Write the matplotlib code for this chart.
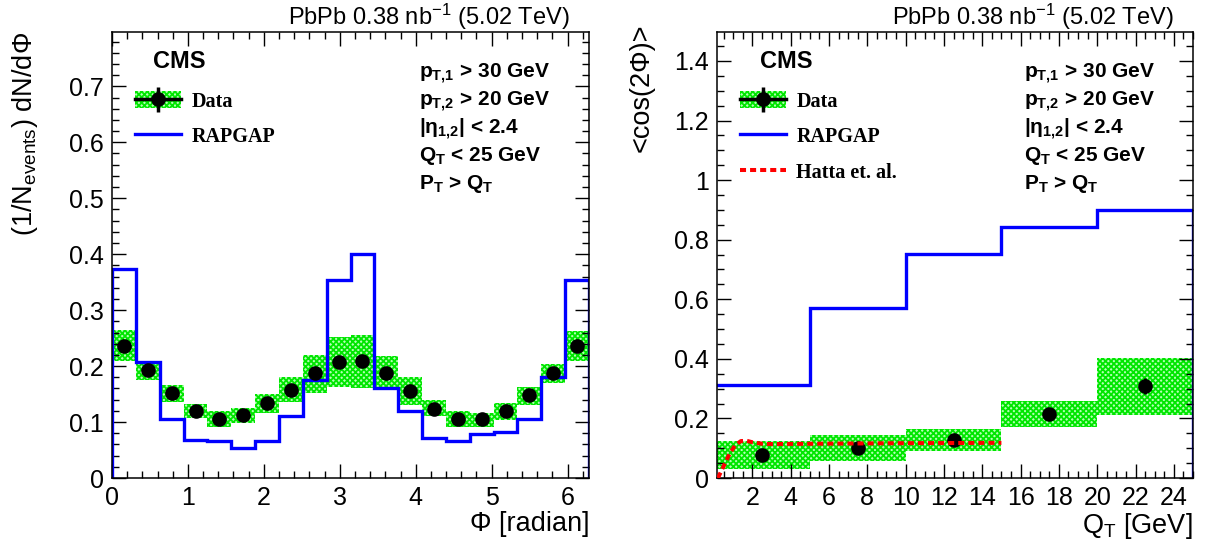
import numpy as np
import matplotlib
matplotlib.use("Agg")
import matplotlib.pyplot as plt
from matplotlib.patches import Patch
from matplotlib.lines import Line2D
from matplotlib.ticker import MultipleLocator, FuncFormatter

# ======================================================
# DATA
# ======================================================

# left: dN/dPhi, 20 bins over [0, 2pi]
phi_edges = np.linspace(0, 2 * np.pi, 21)
phi_data = [0.236, 0.193, 0.152, 0.120, 0.106, 0.113, 0.134, 0.158, 0.187, 0.207,
            0.209, 0.188, 0.156, 0.124, 0.105, 0.105, 0.120, 0.148, 0.187, 0.236]
phi_stat = [0.004] * 20
phi_sys_lo = [0.210, 0.175, 0.136, 0.107, 0.092, 0.099, 0.116, 0.135, 0.152, 0.163,
              0.161, 0.163, 0.131, 0.110, 0.092, 0.092, 0.104, 0.131, 0.169, 0.210]
phi_sys_hi = [0.265, 0.210, 0.167, 0.133, 0.120, 0.126, 0.151, 0.181, 0.220, 0.252,
              0.255, 0.218, 0.180, 0.140, 0.119, 0.117, 0.134, 0.162, 0.204, 0.262]
phi_rapgap = [0.373, 0.207, 0.106, 0.068, 0.066, 0.053, 0.066, 0.111, 0.175, 0.353,
              0.401, 0.161, 0.120, 0.071, 0.066, 0.078, 0.082, 0.106, 0.180, 0.353]

# right: <cos(2Phi)> vs QT
qt_edges = [0, 5, 10, 15, 20, 25]
qt_data = [0.076, 0.101, 0.126, 0.215, 0.308]
qt_stat = [0.006, 0.006, 0.007, 0.010, 0.027]
qt_sys_lo = [0.030, 0.056, 0.090, 0.170, 0.211]
qt_sys_hi = [0.123, 0.145, 0.166, 0.260, 0.403]
qt_rapgap = [0.311, 0.571, 0.752, 0.841, 0.901]

hatta_qt = [0.2, 0.5, 0.8, 1.1, 1.4, 1.7, 2.0, 2.5, 3.0, 5.0, 10.0, 15.0]
hatta_val = [0.0, 0.040, 0.080, 0.110, 0.124, 0.125, 0.120, 0.115, 0.114, 0.115, 0.117, 0.118]

# ======================================================
# STYLE
# ======================================================

plt.rcParams["font.family"] = ["Liberation Sans", "DejaVu Sans"]
plt.rcParams["mathtext.fontset"] = "custom"
plt.rcParams["mathtext.rm"] = "Liberation Sans"
plt.rcParams["mathtext.default"] = "regular"
plt.rcParams["hatch.linewidth"] = 1.3

GREEN_FACE = "#b4ffb4"
GREEN_HATCH = "#00e600"
HATCH = "xxxxxx"
BLUE = "#0000ff"
RED = "#ff0000"

fig = plt.figure(figsize=(12.06, 5.46), dpi=100)
ax1 = fig.add_axes([0.0929, 0.1245, 0.3955, 0.8168])
ax2 = fig.add_axes([0.5945, 0.1245, 0.3947, 0.8168])


def sys_boxes(ax, edges, lo, hi):
    for i in range(len(lo)):
        ax.bar(edges[i], hi[i] - lo[i], width=edges[i + 1] - edges[i],
               bottom=lo[i], align="edge", facecolor=GREEN_FACE,
               edgecolor=GREEN_HATCH, hatch=HATCH, linewidth=0, zorder=1)


def root_axes(ax):
    ax.tick_params(which="both", direction="in", top=True, right=True,
                   labelsize=18, width=1.0, pad=6)
    ax.tick_params(which="major", length=10)
    ax.tick_params(which="minor", length=5)
    for s in ax.spines.values():
        s.set_linewidth(1.1)


def cuts(ax):
    lines = [r"p$_{T{,}1}$ > 30 GeV", r"p$_{T{,}2}$ > 20 GeV", r"|$\eta_{1{,}2}$| < 2.4",
             r"Q$_{T}$ < 25 GeV", r"P$_{T}$ > Q$_{T}$"]
    ys = [0.896, 0.833, 0.770, 0.710, 0.647]
    for t, y in zip(lines, ys):
        ax.text(0.644, y, t, transform=ax.transAxes, fontsize=15,
                fontweight="bold", va="baseline", ha="left")
    ax.text(0.96, 1.016, r"PbPb 0.38 nb$^{-1}$ (5.02 TeV)", transform=ax.transAxes,
            fontsize=17, ha="right", va="baseline")


fmt = FuncFormatter(lambda v, p: "%g" % round(v, 6))

# ======================================================
# LEFT PANEL
# ======================================================

centers = 0.5 * (phi_edges[:-1] + phi_edges[1:])
sys_boxes(ax1, phi_edges, phi_sys_lo, phi_sys_hi)
ax1.stairs(phi_rapgap, phi_edges, color=BLUE, linewidth=2.4, zorder=2)
ax1.errorbar(centers, phi_data, yerr=phi_stat, fmt="o", color="black",
             markersize=9.5, elinewidth=2, capsize=0, zorder=3)

ax1.set_xlim(0, 2 * np.pi)
ax1.set_ylim(0, 0.797)
ax1.xaxis.set_major_locator(MultipleLocator(1))
ax1.xaxis.set_minor_locator(MultipleLocator(0.2))
ax1.yaxis.set_major_locator(MultipleLocator(0.1))
ax1.yaxis.set_minor_locator(MultipleLocator(0.02))
ax1.yaxis.set_major_formatter(fmt)
root_axes(ax1)

ax1.set_xlabel("Φ [radian]", fontsize=19.5, loc="right")
ax1.xaxis.set_label_coords(1.0, -0.075)
ax1.set_ylabel(r"(1/N$_{events}$) dN/dΦ", fontsize=19.5, loc="top")
ax1.yaxis.set_label_coords(-0.15, 1.0)

ax1.text(0.086, 0.919, "CMS", transform=ax1.transAxes, fontsize=17,
         fontweight="bold", va="baseline")
cuts(ax1)

# ======================================================
# RIGHT PANEL
# ======================================================

qt_centers = [0.5 * (qt_edges[i] + qt_edges[i + 1]) for i in range(len(qt_data))]
sys_boxes(ax2, qt_edges, qt_sys_lo, qt_sys_hi)
ax2.stairs(qt_rapgap, qt_edges, color=BLUE, linewidth=2.4, zorder=2)
ax2.plot(hatta_qt, hatta_val, color=RED, linewidth=2.9,
         linestyle=(0, (1.5, 1.0)), zorder=4)
ax2.errorbar(qt_centers, qt_data, yerr=qt_stat, fmt="o", color="black",
             markersize=9.5, elinewidth=2, capsize=0, zorder=3)

ax2.set_xlim(0.15, 25)
ax2.set_ylim(0, 1.497)
ax2.xaxis.set_major_locator(MultipleLocator(2))
ax2.xaxis.set_minor_locator(MultipleLocator(0.5))
ax2.yaxis.set_major_locator(MultipleLocator(0.2))
ax2.yaxis.set_minor_locator(MultipleLocator(0.05))
ax2.yaxis.set_major_formatter(fmt)
root_axes(ax2)

ax2.set_xlabel(r"Q$_{T}$ [GeV]", fontsize=19.5, loc="right")
ax2.xaxis.set_label_coords(1.0, -0.075)
ax2.set_ylabel("<cos(2Φ)>", fontsize=19.5, loc="top")
ax2.yaxis.set_label_coords(-0.13, 1.02)

ax2.text(0.090, 0.919, "CMS", transform=ax2.transAxes, fontsize=17,
         fontweight="bold", va="baseline")
cuts(ax2)

# ======================================================
# LEGENDS
# ======================================================

box = Patch(facecolor=GREEN_FACE, edgecolor=GREEN_HATCH, hatch=HATCH, linewidth=0)
hline = Line2D([], [], color="black", linewidth=2.5, marker="o", markersize=9.5)
vline = Line2D([], [], color="black", linestyle="none", marker="|",
               markersize=18, markeredgewidth=2.5)
rap = Line2D([], [], color=BLUE, linewidth=2.4)
hat = Line2D([], [], color=RED, linewidth=2.9, linestyle=(0, (1.5, 1.0)))

leg_kw = dict(loc="upper left", frameon=False, borderpad=0, borderaxespad=0,
              handlelength=2.3, handleheight=0.95, handletextpad=0.5,
              labelspacing=0.75,
              prop={"family": "Liberation Serif", "weight": "bold", "size": 14.5})

ax1.legend([(box, hline, vline), rap], ["Data", "RAPGAP"],
           bbox_to_anchor=(0.048, 0.868), **leg_kw)
ax2.legend([(box, hline, vline), rap, hat], ["Data", "RAPGAP", "Hatta et. al."],
           bbox_to_anchor=(0.048, 0.868), **leg_kw)

fig.savefig("out.png", dpi=100)
